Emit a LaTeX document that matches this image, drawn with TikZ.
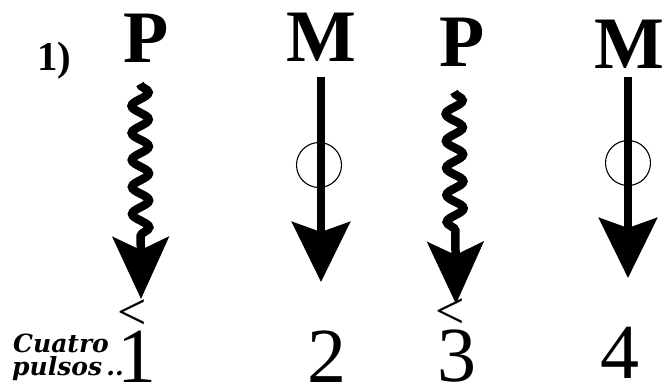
\documentclass[tikz,border=0pt]{standalone}
\usepackage{fontspec}
\setmainfont{Liberation Serif}
\newfontfamily\labfont{DejaVu Serif}
\usetikzlibrary{arrows.meta,decorations.pathmorphing}
\tikzset{
  big/.style={font=\fontsize{74}{74}\selectfont\bfseries, inner sep=0pt, anchor=base},
  num/.style={font=\fontsize{78}{78}\selectfont, inner sep=0pt, anchor=base},
  lt/.style={font=\fontsize{52}{52}\selectfont, inner sep=0pt, anchor=base},
  lab/.style={font=\labfont\fontsize{25}{25}\selectfont\bfseries\itshape, inner sep=0pt, anchor=base west},
  mline/.style={line width=8pt, -{Stealth[length=60pt, width=58pt, inset=10pt]}},
  wave/.style={line width=8.5pt, decorate,
    decoration={snake, amplitude=8.5pt, segment length=27pt, post length=62pt},
    -{Stealth[length=62pt, width=56pt, inset=13pt]}},
  ring/.style={draw, circle, line width=1.1pt, minimum size=45pt, inner sep=0pt}
}
\begin{document}
\begin{tikzpicture}[x=1pt,y=-1pt]
\useasboundingbox (0,0) rectangle (669,388);
% labels
\node[font=\fontsize{41}{41}\selectfont\bfseries, inner sep=0pt, anchor=base west] (one) at (37,70) {1)};
\node[big] (P1) at (146,62) {P};
\node[big] (M1) at (321,61) {M};
\node[big] (P2) at (462,66) {P};
\node[big] (M2) at (629,68) {M};
% numbers
\node[num] (n1) at (137,382) {1};
\node[num] (n2) at (327,382) {2};
\node[num] (n3) at (457,381) {3};
\node[num] (n4) at (620,378) {4};
\node[lab] (cp) at (13,352) {Cuatro};
\node[lab] (pu) at (12,375) {pulsos\,..};
% coordinates
\coordinate (w1a) at (140,84);
\coordinate (w1b) at (141,299);
\coordinate (w2a) at (454,92);
\coordinate (w2b) at (456,304);
\coordinate (m1a) at (321,77);
\coordinate (m1b) at (321,282);
\coordinate (m2a) at (628,77);
\coordinate (m2b) at (628,278);
% arrows
\draw[wave] (w1a) -- (w1b);
\draw[wave] (w2a) -- (w2b);
\draw[mline] (m1a) -- (m1b);
\draw[mline] (m2a) -- (m2b);
\node[ring] (c1) at (319,165) {};
\node[ring] (c2) at (628,163) {};
\node[lt] (l1) at (132,329) {<};
\node[lt] (l3) at (450,328) {<};
\end{tikzpicture}
\end{document}
